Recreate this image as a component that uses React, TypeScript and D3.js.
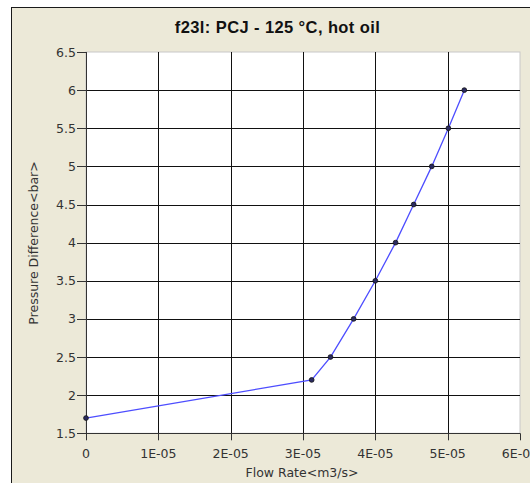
import React from "react";
import * as d3 from "d3";

const flowRate = [0, 3.12e-5, 3.38e-5, 3.7e-5, 4.0e-5, 4.28e-5, 4.53e-5, 4.78e-5, 5.01e-5, 5.23e-5];
const pressure = [1.7, 2.2, 2.5, 3.0, 3.5, 4.0, 4.5, 5.0, 5.5, 6.0];
const xTicks = [0, 1e-5, 2e-5, 3e-5, 4e-5, 5e-5, 6e-5];
const xTickLabels = ["0", "1E-05", "2E-05", "3E-05", "4E-05", "5E-05", "6E-05"];
const yTicks = [1.5, 2, 2.5, 3, 3.5, 4, 4.5, 5, 5.5, 6, 6.5];
const title = "f23l: PCJ - 125 °C, hot oil";
const xTitle = "Flow Rate<m3/s>";
const yTitle = "Pressure Difference<bar>";

export default function App() {
  const W = 530, H = 483;
  const left = 86, right = 520, top = 52, bottom = 433.3;
  const x = d3.scaleLinear().domain([0, 6e-5]).range([left, right]);
  const y = d3.scaleLinear().domain([1.5, 6.5]).range([bottom, top]);
  const pts = flowRate.map((f, i) => [f, pressure[i]] as [number, number]);
  const line = d3.line<[number, number]>().x(d => x(d[0])).y(d => y(d[1]))(pts) || "";
  const font = "'DejaVu Sans', Verdana, sans-serif";
  const titleFont = "'Liberation Sans', Arial, sans-serif";
  return (
    <svg width={W} height={H} style={{ position: "absolute", left: 0, top: 0 }} fontFamily={font}>
      <rect x={0} y={0} width={W} height={H} fill="#ffffff" />
      <rect x={11.5} y={7.5} width={W + 10} height={H + 10} fill="#ECE9D8" stroke="#1a1a1a" strokeWidth={1} />
      <text x={277.5} y={33} textAnchor="middle" fontSize={16.5} fontWeight="bold" letterSpacing={0.4} fill="#111" fontFamily={titleFont}>{title}</text>
      <rect x={left} y={top} width={right - left} height={bottom - top} fill="#ffffff" stroke="#c8c8c8" />
      {xTicks.slice(1, -1).map((t, i) => (
        <line key={"gx" + i} x1={Math.round(x(t)) + 0.5} x2={Math.round(x(t)) + 0.5} y1={top} y2={bottom} stroke="#111" />
      ))}
      {yTicks.slice(1, -1).map((t, i) => (
        <line key={"gy" + i} x1={left} x2={right} y1={Math.round(y(t)) + 0.5} y2={Math.round(y(t)) + 0.5} stroke="#111" />
      ))}
      <line x1={left + 0.5} x2={left + 0.5} y1={top} y2={bottom + 6} stroke="#333" />
      <line x1={left - 9} x2={right} y1={Math.round(bottom) + 0.5} y2={Math.round(bottom) + 0.5} stroke="#333" />
      {yTicks.map((t, i) => (
        <g key={"yt" + i}>
          <line x1={left - 9} x2={left} y1={Math.round(y(t)) + 0.5} y2={Math.round(y(t)) + 0.5} stroke="#333" />
          <text x={left - 10} y={y(t) + 4.5} textAnchor="end" fontSize={12.5} fill="#333">{String(t)}</text>
        </g>
      ))}
      {xTicks.map((t, i) => (
        <g key={"xt" + i}>
          <line x1={Math.round(x(t)) + 0.5} x2={Math.round(x(t)) + 0.5} y1={bottom} y2={bottom + 7} stroke="#333" />
          <text x={x(t)} y={458} textAnchor="middle" fontSize={12.5} fill="#333">{xTickLabels[i]}</text>
        </g>
      ))}
      <text x={302} y={477} textAnchor="middle" fontSize={12.5} fill="#333">{xTitle}</text>
      <text transform={`translate(38,243) rotate(-90)`} textAnchor="middle" fontSize={12.5} fill="#333">{yTitle}</text>
      <path d={line} fill="none" stroke="#4d4dff" strokeWidth={1.3} />
      {pts.map((d, i) => (
        <circle key={"p" + i} cx={x(d[0])} cy={y(d[1])} r={2.4} fill="#2a2a60" stroke="#111" strokeWidth={0.8} />
      ))}
    </svg>
  );
}
